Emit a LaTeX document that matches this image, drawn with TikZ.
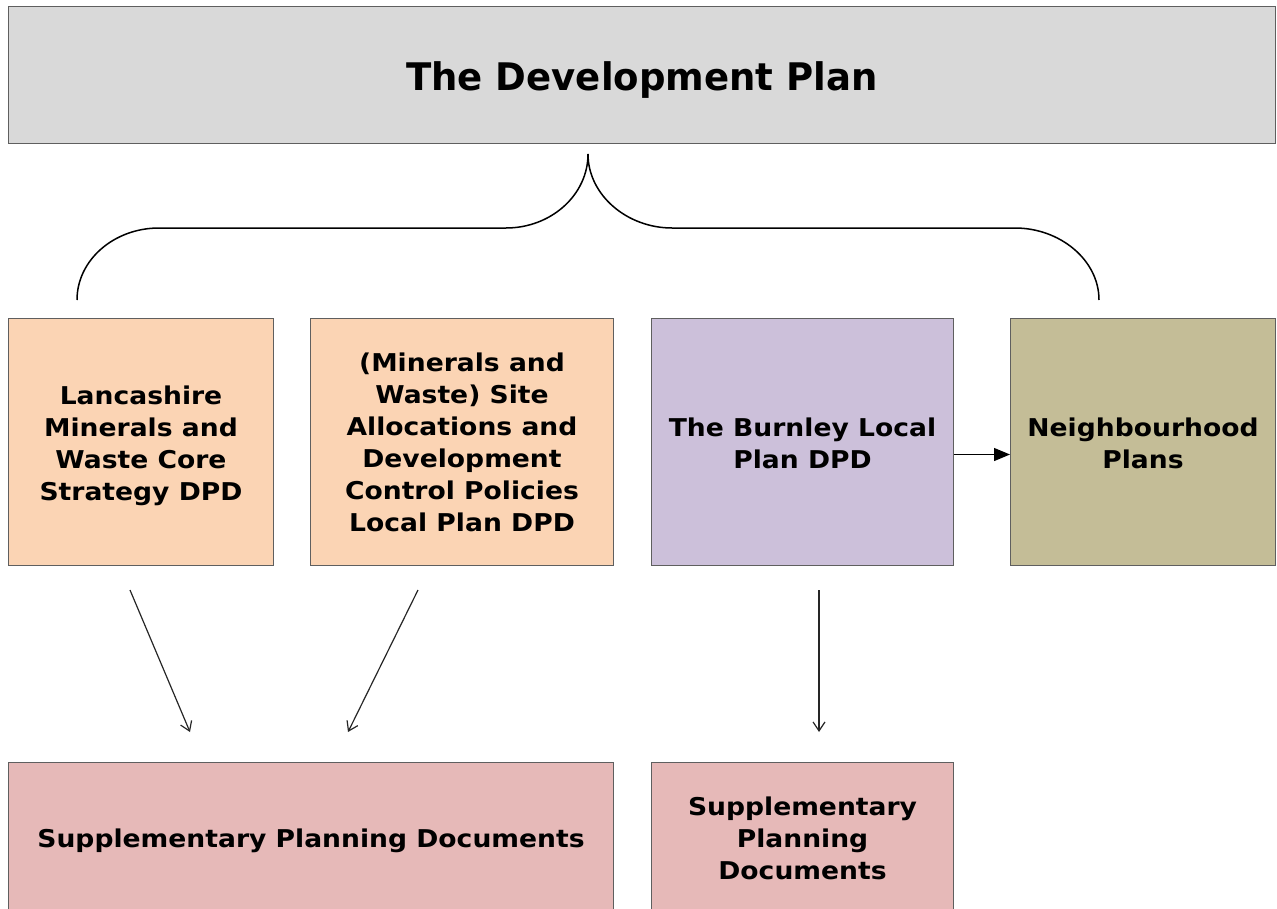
\documentclass[tikz,border=0pt]{standalone}
\usepackage{fontspec}
\setmainfont{DejaVu Sans}
\newfontfamily\bodyfont{DejaVu Sans}[FakeStretch=1.085]
\newfontfamily\titlefont{DejaVu Sans}[FakeStretch=0.975]
\usetikzlibrary{arrows.meta,calc}
\definecolor{titlefill}{HTML}{D9D9D9}
\definecolor{orangefill}{HTML}{FBD4B4}
\definecolor{purplefill}{HTML}{CCC0DA}
\definecolor{olivefill}{HTML}{C4BD97}
\definecolor{pinkfill}{HTML}{E6B9B8}
\definecolor{edgegray}{HTML}{5F5F5F}
\tikzset{
  box/.style={draw=edgegray, line width=1pt, anchor=north west, inner sep=0pt},
  boxtext/.style={inner sep=0pt, align=center,
    font=\bodyfont\fontsize{24.5}{32}\selectfont\bfseries},
  thinarrow/.style={draw=black!85, line width=1.2pt, -{Straight Barb[length=9pt,width=12pt,line width=1.2pt]}},
  fillarrow/.style={draw=black, line width=1.2pt, -{Triangle[length=16pt,width=13pt]}},
  bracestyle/.style={draw=black, line width=1.5pt},
}
\begin{document}
\begin{tikzpicture}[x=1pt,y=-1pt]
\useasboundingbox (0,0) rectangle (1277,908);
\begin{scope}
\clip (0,0) rectangle (1277,908);
\node[box, fill=titlefill, minimum width=1267pt, minimum height=137pt] (title) at (8,6) {};
\node[box, fill=orangefill, minimum width=265pt, minimum height=247pt] (b1) at (8,318) {};
\node[box, fill=orangefill, minimum width=303pt, minimum height=247pt] (b2) at (310,318) {};
\node[box, fill=purplefill, minimum width=302pt, minimum height=247pt] (b3) at (651,318) {};
\node[box, fill=olivefill, minimum width=265pt, minimum height=247pt] (b4) at (1010,318) {};
\node[box, fill=pinkfill, minimum width=605pt, minimum height=152pt] (s1) at (8,762) {};
\node[box, fill=pinkfill, minimum width=302pt, minimum height=152pt] (s2) at (651,762) {};
\end{scope}
\node[boxtext, font=\titlefont\fontsize{38}{46}\selectfont\bfseries] (tt) at ($(title.center)+(0,5)$) {The Development Plan};
\node[boxtext] (t1) at ($(b1.center)+(0,4)$) {Lancashire\\Minerals and\\Waste Core\\Strategy DPD};
\node[boxtext] (t2) at ($(b2.center)+(0,0)$) {(Minerals and\\Waste) Site\\Allocations and\\Development\\Control Policies\\Local Plan DPD};
\node[boxtext] (t3) at ($(b3.center)+(0,1)$) {The Burnley Local\\Plan DPD};
\node[boxtext] (t4) at ($(b4.center)+(0,1)$) {Neighbourhood\\Plans};
\node[boxtext] (t5) at ($(s1.center)+(0,2)$) {Supplementary Planning Documents};
\node[boxtext] (t6) at ($(s2.center)+(0,0)$) {Supplementary\\Planning\\Documents};
% brace
\coordinate (bl) at (77,300);
\coordinate (bm) at (588,154);
\coordinate (br) at (1099,300);
\draw[bracestyle] (bl) .. controls (77,260) and (114,228) .. (159,228) -- (506,228)
  .. controls (551,228) and (588,195) .. (bm)
  .. controls (588,195) and (627,228) .. (672,228) -- (1015,228)
  .. controls (1060,228) and (1099,260) .. (br);
% arrows
\coordinate (a1s) at (130,590); \coordinate (a1e) at (190,732);
\coordinate (a2s) at (418,590); \coordinate (a2e) at (348,732);
\coordinate (a3s) at (819,590); \coordinate (a3e) at (819,732);
\draw[thinarrow] (a1s) -- (a1e);
\draw[thinarrow] (a2s) -- (a2e);
\draw[thinarrow] (a3s) -- (a3e);
\draw[fillarrow] ($(b3.east)+(0,12.5)$) -- ($(b4.west)+(0,12.5)$);
\end{tikzpicture}
\end{document}
